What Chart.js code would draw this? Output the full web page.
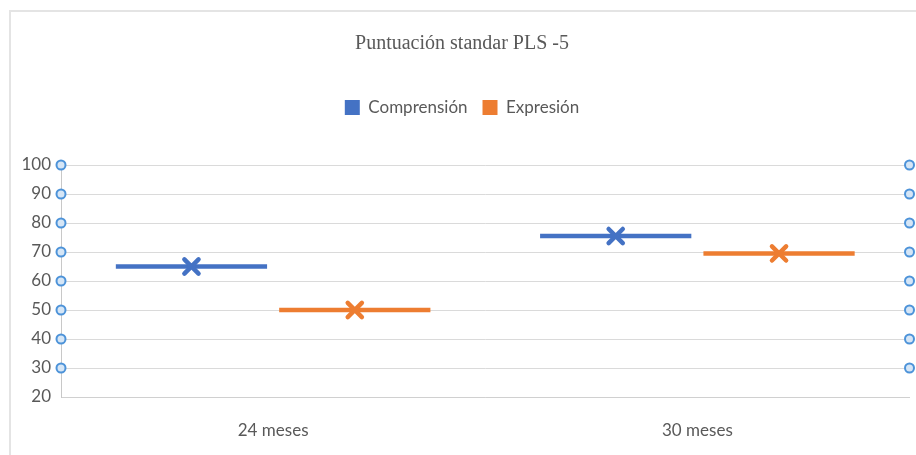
<!DOCTYPE html>
<html>
<head>
<meta charset="utf-8">
<script src="https://cdn.jsdelivr.net/npm/chart.js@4.4.1/dist/chart.umd.min.js"></script>
<style>
    html, body { margin: 0; padding: 0; background: #fff; }
    #wrap { position: relative; width: 916px; height: 455px; overflow: hidden; }
    #frame { position: absolute; left: 9px; top: 10px; right: -5px; bottom: -5px;
             border-top: 2px solid #e4e4e4; border-left: 2px solid #e4e4e4; }
    canvas { position: absolute; left: 0; top: 0; }
</style>
</head>
<body>
<div id="wrap">
    <div id="frame"></div>
    <canvas id="pls5Chart" width="916" height="455"></canvas>
</div>
<script>
/* =========================================
   Datos
   ========================================= */
var categorias = ['24 meses', '30 meses'];
var comprension = [65, 75.5];
var expresion = [50, 69.5];
// puntos sueltos en los bordes (atipicos de Excel)
var puntosIzq = [30, 40, 50, 60, 70, 80, 90, 100];
var puntosDer = [30, 40, 50, 60, 70, 80, 90, 100];
var ejeY = { min: 20, max: 100, paso: 10 };

var azul = '#4472C4';
var naranja = '#ED7D31';
var grosor = 0.8; // medio grosor de la linea horizontal, en unidades del eje

// eje x lineal: cada categoria ocupa una unidad, centro en i + 0.5
function barraPlana(v, i) { return { x: i + 0.5, y: [v - grosor, v + grosor] }; }

// Marca "X" de la media sobre cada barra
var marcaMedia = {
    id: 'marcaMedia',
    afterDatasetsDraw: function(chart) {
        var ctx = chart.ctx;
        chart.data.datasets.forEach(function(ds, i) {
            if (!ds.media) return;
            var meta = chart.getDatasetMeta(i);
            meta.data.forEach(function(bar, j) {
                var y = chart.scales.y.getPixelForValue(ds.media[j]);
                ctx.save();
                ctx.strokeStyle = ds.backgroundColor;
                ctx.lineCap = 'round';
                ctx.lineWidth = 4.5;
                Chart.helpers.drawPoint(ctx, { pointStyle: 'crossRot', radius: 10, rotation: 0, borderWidth: 4.5 }, bar.x, y);
                ctx.restore();
            });
        });
    }
};

var ctx = document.getElementById('pls5Chart').getContext('2d');

var pls5Chart = new Chart(ctx, {
    type: 'bar',
    data: {
        datasets: [{
            label: 'Comprensión',
            data: comprension.map(barraPlana),
            media: comprension,
            backgroundColor: azul,
            borderWidth: 0,
            borderSkipped: false,
            categoryPercentage: 0.77,
            barPercentage: 0.926
        }, {
            label: 'Expresión',
            data: expresion.map(barraPlana),
            media: expresion,
            backgroundColor: naranja,
            borderWidth: 0,
            borderSkipped: false,
            categoryPercentage: 0.77,
            barPercentage: 0.926
        }, {
            type: 'scatter',
            label: 'izq',
            data: puntosIzq.map(function(v) { return { x: 0, y: v }; }),
            pointRadius: 4.5,
            pointBorderWidth: 2,
            pointBorderColor: '#4d93d9',
            pointBackgroundColor: '#d6e6f6',
            clip: false
        }, {
            type: 'scatter',
            label: 'der',
            data: puntosDer.map(function(v) { return { x: categorias.length, y: v }; }),
            pointRadius: 4.5,
            pointBorderWidth: 2,
            pointBorderColor: '#4d93d9',
            pointBackgroundColor: '#d6e6f6',
            clip: false
        }]
    },
    options: {
        responsive: false,
        animation: false,
        layout: { padding: { left: 12, right: 4, top: 0, bottom: 16 } },
        plugins: {
            title: {
                display: true,
                text: 'Puntuación standar PLS -5',
                color: '#595959',
                font: { family: '"Liberation Serif", serif', size: 20, weight: 'normal', lineHeight: 1.2 },
                padding: { top: 32, bottom: 28 }
            },
            subtitle: {
                // espacio entre la leyenda y el grafico
                display: true,
                text: '',
                position: 'top',
                weight: 500,
                font: { size: 10, lineHeight: 1 },
                padding: { top: 29, bottom: 0 }
            },
            legend: {
                position: 'top',
                labels: {
                    color: '#595959',
                    font: { family: 'Lato, sans-serif', size: 17 },
                    boxWidth: 15,
                    boxHeight: 15,
                    padding: 15,
                    filter: function(item) { return item.datasetIndex < 2; }
                }
            },
            tooltip: { enabled: false }
        },
        scales: {
            x: {
                type: 'linear',
                min: 0,
                max: categorias.length,
                offset: false,
                grid: { display: false, drawTicks: false },
                border: { display: true, color: '#d0d0d0' },
                afterBuildTicks: function(scale) {
                    scale.ticks = categorias.map(function(c, i) { return { value: i + 0.5 }; });
                },
                ticks: {
                    color: '#595959',
                    font: { family: 'Lato, sans-serif', size: 17 },
                    padding: 23,
                    maxRotation: 0,
                    autoSkip: false,
                    callback: function(value, index) { return categorias[index]; }
                },
                afterFit: function(scale) { scale.height = 42; }
            },
            y: {
                min: ejeY.min,
                max: ejeY.max,
                grid: { color: '#dadada', drawTicks: false },
                border: { display: true, color: '#c8c8c8' },
                ticks: {
                    stepSize: ejeY.paso,
                    color: '#595959',
                    font: { family: 'Lato, sans-serif', size: 17 },
                    padding: 10
                },
                afterFit: function(scale) { scale.width = 49; }
            }
        }
    },
    plugins: [marcaMedia]
});
</script>
</body>
</html>
